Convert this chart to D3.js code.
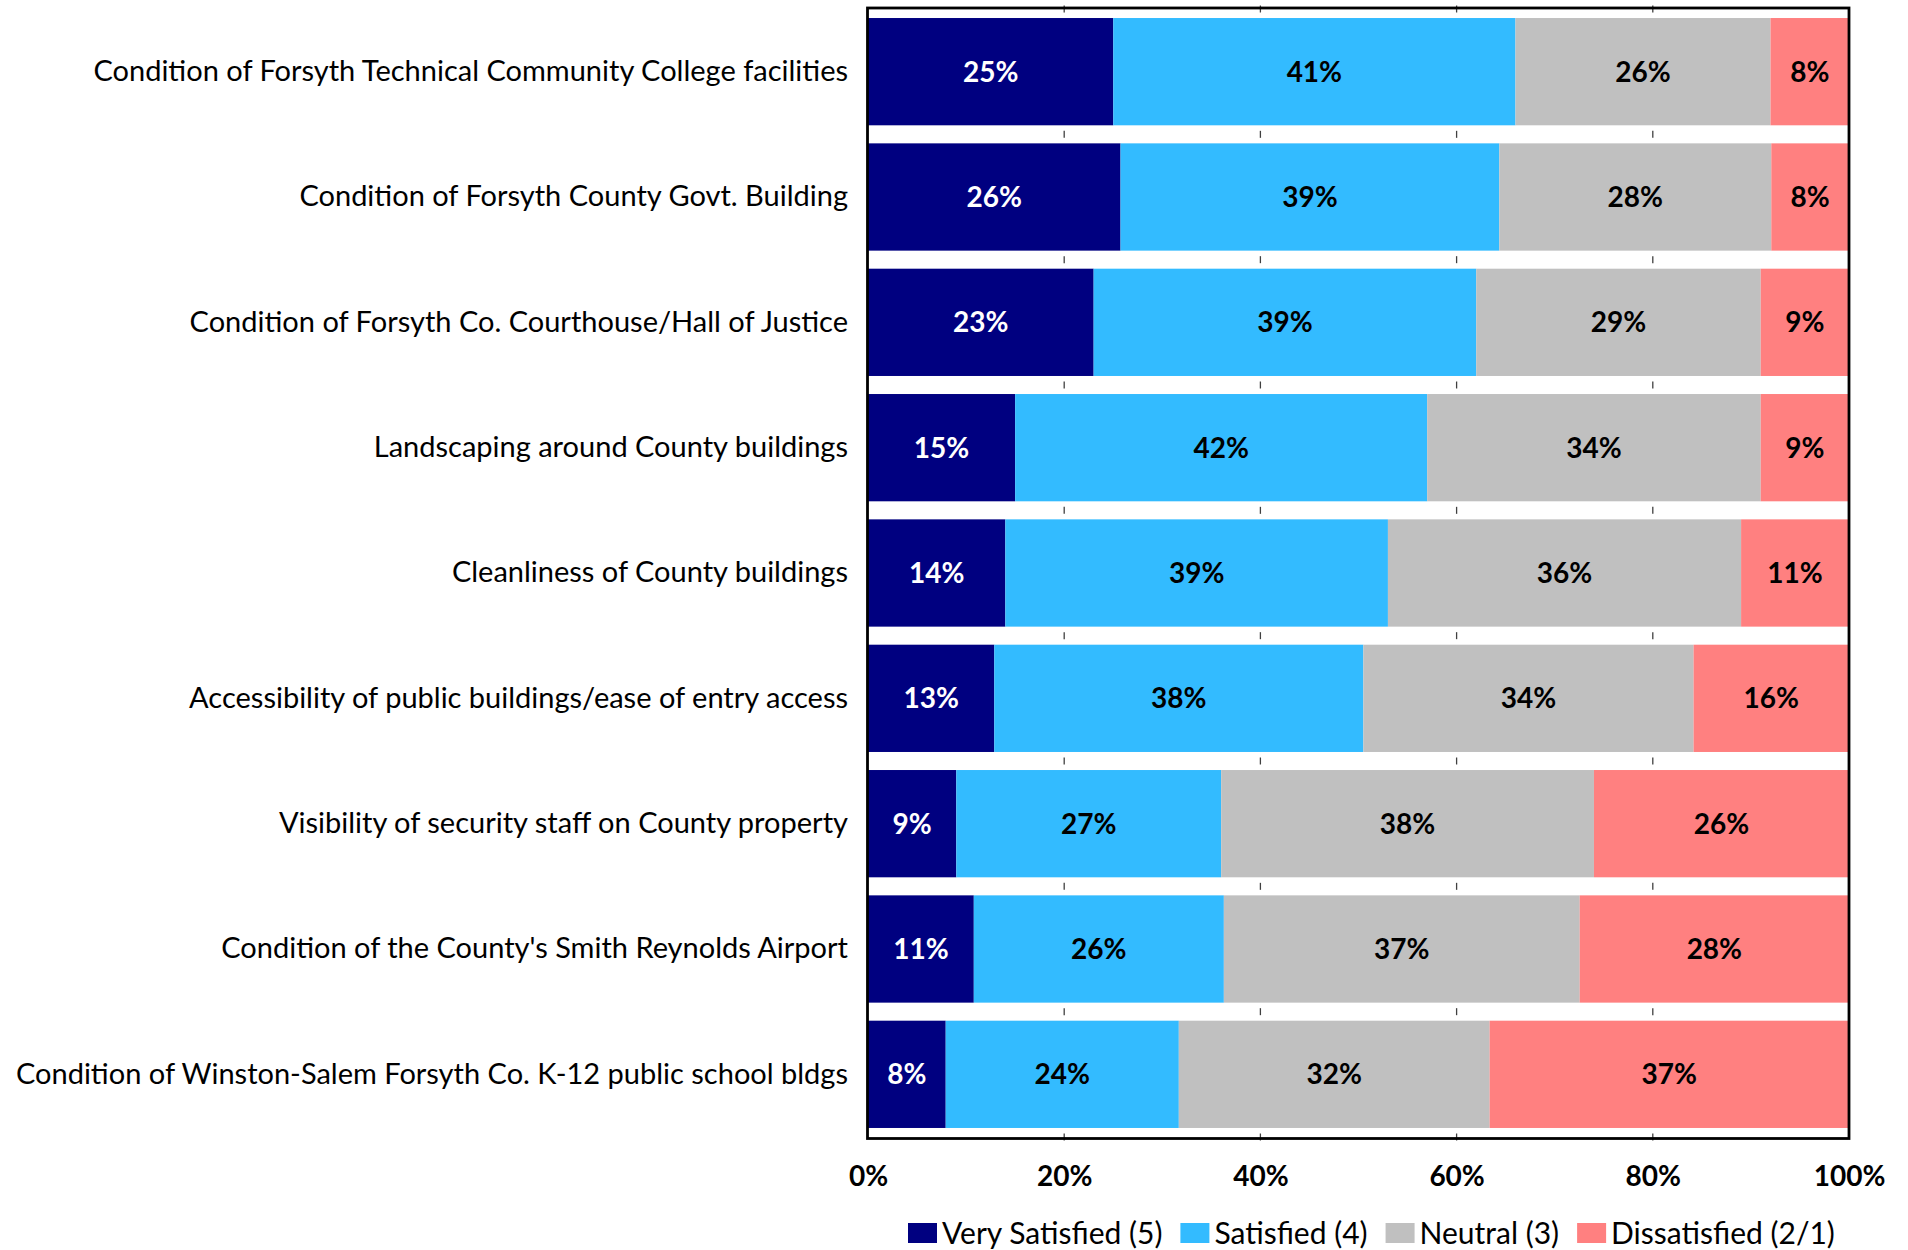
<!DOCTYPE html>
<html>
<head>
<meta charset="utf-8">
<script src="https://cdn.jsdelivr.net/npm/d3@7"></script>
<style>
  body { margin: 0; background: #fff; }
  text { font-family: Lato, "Open Sans", sans-serif; }
</style>
</head>
<body>
<script>
// chart data
var categories = [
  "Condition of Forsyth Technical Community College facilities",
  "Condition of Forsyth County Govt. Building",
  "Condition of Forsyth Co. Courthouse/Hall of Justice",
  "Landscaping around County buildings",
  "Cleanliness of County buildings",
  "Accessibility of public buildings/ease of entry access",
  "Visibility of security staff on County property",
  "Condition of the County's Smith Reynolds Airport",
  "Condition of Winston-Salem Forsyth Co. K-12 public school bldgs"
];
var seriesNames = ["Very Satisfied (5)", "Satisfied (4)", "Neutral (3)", "Dissatisfied (2/1)"];
var verySatisfied = [25, 26, 23, 15, 14, 13, 9, 11, 8];
var satisfied     = [41, 39, 39, 42, 39, 38, 27, 26, 24];
var neutral       = [26, 28, 29, 34, 36, 34, 38, 37, 32];
var dissatisfied  = [8, 8, 9, 9, 11, 16, 26, 28, 37];
var tickValues = [0, 0.2, 0.4, 0.6, 0.8, 1];

var colors = ["#000080", "#33BBFF", "#C0C0C0", "#FF8080"];
var labelColors = ["#ffffff", "#000000", "#000000", "#000000"];

var series = [verySatisfied, satisfied, neutral, dissatisfied];

// build rows, normalised to 100% like an Excel 100% stacked bar
var rows = categories.map(function(c, i) {
  var row = { category: c };
  var total = 0;
  series.forEach(function(s) { total += s[i]; });
  seriesNames.forEach(function(n, k) { row[n] = series[k][i] / total; row[n + "_raw"] = series[k][i]; });
  return row;
});

var stacked = d3.stack().keys(seriesNames)(rows);

var width = 1908, height = 1250;
var svg = d3.select("body").append("svg")
    .attr("width", width)
    .attr("height", height);

var x = d3.scaleLinear().domain([0, 1]).range([868, 1849]);
var y = d3.scaleBand().domain(categories).range([9, 1137])
    .paddingInner(0.144).paddingOuter(0.072);

// short grid dashes visible in the gaps between bars
var gap = y.step() - y.bandwidth();
var gapCenters = categories.map(function(c) { return y(c) - gap / 2; });
gapCenters.push(y(categories[categories.length - 1]) + y.bandwidth() + gap / 2);

var grid = svg.append("g");
tickValues.slice(1, -1).forEach(function(t) {
  grid.selectAll(null)
    .data(gapCenters)
    .enter().append("line")
      .attr("x1", x(t)).attr("x2", x(t))
      .attr("y1", function(d) { return d - 3.5; })
      .attr("y2", function(d) { return d + 3.5; })
      .attr("stroke", "#404040")
      .attr("stroke-width", 1.3);
});

// bars
var layers = svg.selectAll("g.layer")
    .data(stacked)
    .enter().append("g")
    .attr("class", "layer")
    .attr("fill", function(d, i) { return colors[i]; });

layers.selectAll("rect")
    .data(function(d) { return d; })
    .enter().append("rect")
      .attr("x", function(d) { return x(d[0]); })
      .attr("y", function(d) { return y(d.data.category); })
      .attr("width", function(d) { return x(d[1]) - x(d[0]); })
      .attr("height", y.bandwidth());

// value labels
layers.selectAll("text")
    .data(function(d) { return d.map(function(p) { p.key = d.key; p.idx = d.index; return p; }); })
    .enter().append("text")
      .attr("x", function(d) { return (x(d[0]) + x(d[1])) / 2; })
      .attr("y", function(d) { return y(d.data.category) + y.bandwidth() / 2; })
      .attr("dy", "0.36em")
      .attr("text-anchor", "middle")
      .attr("font-size", "28px")
      .attr("font-weight", "bold")
      .attr("fill", function(d) { return labelColors[d.idx]; })
      .text(function(d) { return d.data[d.key + "_raw"] + "%"; });

// frame
svg.append("rect")
    .attr("x", x.range()[0] - 0.5)
    .attr("y", 8)
    .attr("width", x.range()[1] - x.range()[0] + 0.5)
    .attr("height", 1138.5 - 8)
    .attr("fill", "none")
    .attr("stroke", "#000")
    .attr("stroke-width", 2.8);

// category labels
var yAxis = svg.append("g")
    .attr("transform", "translate(" + (x.range()[0] - 20) + ",0)")
    .call(d3.axisLeft(y).tickSize(0).tickPadding(0));
yAxis.select(".domain").remove();
yAxis.selectAll("text")
    .attr("font-family", "Lato, sans-serif")
    .attr("font-size", "29px")
    .attr("fill", "#000");

// x axis tick labels
var xAxis = svg.append("g")
    .attr("transform", "translate(0,1166)")
    .call(d3.axisBottom(x).tickValues(tickValues).tickFormat(d3.format(".0%")).tickSize(0).tickPadding(0));
xAxis.select(".domain").remove();
xAxis.selectAll("text")
    .attr("font-family", "Lato, sans-serif")
    .attr("font-size", "28px")
    .attr("font-weight", "bold")
    .attr("fill", "#000");

// legend
var legend = svg.append("g").attr("transform", "translate(0,1233)");
var lx = 908;
seriesNames.forEach(function(n, i) {
  var item = legend.append("g").attr("transform", "translate(" + lx + ",0)");
  item.append("rect")
    .attr("x", 0).attr("y", -10)
    .attr("width", 29).attr("height", 20)
    .attr("fill", colors[i]);
  var t = item.append("text")
    .attr("x", 34)
    .attr("dy", "0.36em")
    .attr("font-size", "30px")
    .attr("fill", "#000")
    .text(n);
  lx += 34 + t.node().getComputedTextLength() + 18;
});
</script>
</body>
</html>
